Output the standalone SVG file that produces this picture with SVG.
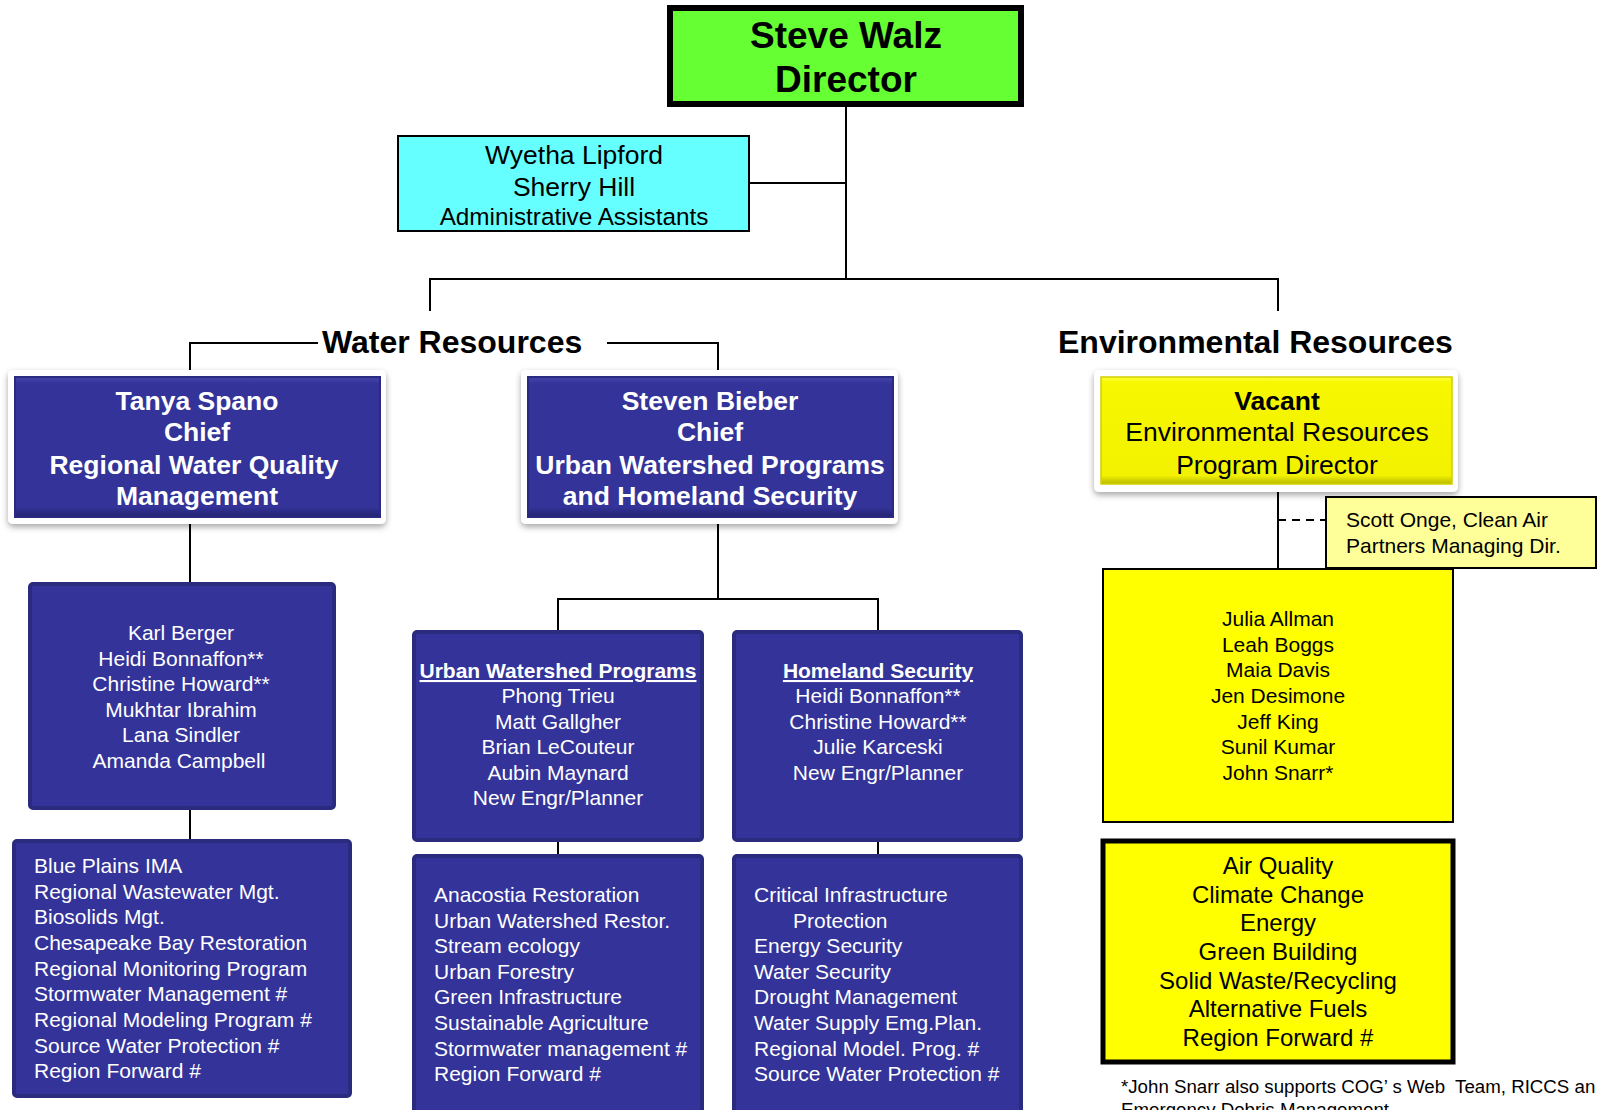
<svg xmlns="http://www.w3.org/2000/svg" width="1598" height="1110" viewBox="0 0 1598 1110">
<style>
text{font-family:"Liberation Sans",Arial,sans-serif}
.c{text-anchor:middle}
.wt{fill:#fff;font-size:21px}
.wb{fill:#fff;font-size:26.5px;font-weight:bold}
.bk{fill:#000}
.ln{stroke:#000;stroke-width:2;fill:none}
.staff{fill:#333399;stroke:#2a2a7e;stroke-width:4}
.frame{fill:#fff;filter:url(#sh)}
</style>
<defs>
<filter id="sh" x="-10%" y="-10%" width="120%" height="130%">
<feDropShadow dx="0" dy="3" stdDeviation="3" flood-color="#000" flood-opacity="0.35"/>
</filter>
<linearGradient id="bev" x1="0" y1="0" x2="0" y2="1">
<stop offset="0" stop-color="#4545ad"/>
<stop offset="0.05" stop-color="#333399"/>
<stop offset="0.93" stop-color="#333399"/>
<stop offset="1" stop-color="#232370"/>
</linearGradient>
<linearGradient id="ybev" x1="0" y1="0" x2="0" y2="1">
<stop offset="0" stop-color="#ffff40"/>
<stop offset="0.05" stop-color="#f7f700"/>
<stop offset="0.92" stop-color="#f2f200"/>
<stop offset="1" stop-color="#b8b800"/>
</linearGradient>
</defs>
<rect width="1598" height="1110" fill="#fff"/>

<g id="connectors">
<path class="ln" d="M846 107V279M750 183H846M430 311V279H1278V311"/>
<path class="ln" d="M190 370V343H318M607 343H718V370"/>
<path class="ln" d="M190 524V582M190 810V839"/>
<path class="ln" d="M718 524V599M558 630V599H878V630M558 842V854M878 842V854"/>
<path class="ln" d="M1278 490V568"/>
<path class="ln" d="M1278 520H1326" stroke-dasharray="8,6"/>
</g>

<g id="director">
<rect x="670" y="8" width="351" height="96" fill="#66ff33" stroke="#000" stroke-width="6"/>
<text class="c bk" x="846" y="48" font-size="37" font-weight="bold">Steve Walz</text>
<text class="c bk" x="846" y="92" font-size="37" font-weight="bold">Director</text>
</g>

<g id="admin">
<rect x="398" y="136" width="351" height="95" fill="#66ffff" stroke="#000" stroke-width="2"/>
<text class="c bk" x="574" y="164" font-size="26.5">Wyetha Lipford</text>
<text class="c bk" x="574" y="196" font-size="26.5">Sherry Hill</text>
<text class="c bk" x="574" y="225" font-size="24.3">Administrative Assistants</text>
</g>

<g id="water-title">
<text class="bk" x="322" y="353" font-size="32" font-weight="bold">Water Resources</text>
</g>
<g id="env-title">
<text class="bk" x="1058" y="353" font-size="32" font-weight="bold">Environmental Resources</text>
</g>

<g id="tanya">
<rect class="frame" x="8" y="370" width="378" height="154" rx="5"/>
<rect x="15" y="377" width="365" height="140" fill="url(#bev)" stroke="#2a2a80" stroke-width="2"/>
<text class="c wb" x="197" y="410">Tanya Spano</text>
<text class="c wb" x="197" y="441">Chief</text>
<text class="c wb" x="194" y="474">Regional Water Quality</text>
<text class="c wb" x="197" y="505">Management</text>
</g>

<g id="bieber">
<rect class="frame" x="521" y="370" width="377" height="154" rx="5"/>
<rect x="528" y="377" width="365" height="140" fill="url(#bev)" stroke="#2a2a80" stroke-width="2"/>
<text class="c wb" x="710" y="410">Steven Bieber</text>
<text class="c wb" x="710" y="441">Chief</text>
<text class="c wb" x="710" y="474">Urban Watershed Programs</text>
<text class="c wb" x="710" y="505">and Homeland Security</text>
</g>

<g id="vacant">
<rect class="frame" x="1094" y="370" width="364" height="122" rx="5"/>
<rect x="1101" y="377" width="351" height="107" fill="url(#ybev)" stroke="#d0d000" stroke-width="1.5"/>
<text class="c bk" x="1277" y="410" font-size="26.5" font-weight="bold">Vacant</text>
<text class="c bk" x="1277" y="441" font-size="26.5">Environmental Resources</text>
<text class="c bk" x="1277" y="474" font-size="26.5">Program Director</text>
</g>

<g id="scott">
<rect x="1326" y="497" width="270" height="71" fill="#ffff99" stroke="#000" stroke-width="2"/>
<text class="bk" x="1346" y="527" font-size="21">Scott Onge, Clean Air</text>
<text class="bk" x="1346" y="553" font-size="21">Partners Managing Dir.</text>
</g>

<g id="karl">
<rect class="staff" x="30" y="584" width="304" height="224" rx="3"/>
<text class="c wt" x="181" y="640">Karl Berger</text>
<text class="c wt" x="181" y="666">Heidi Bonnaffon**</text>
<text class="c wt" x="181" y="691">Christine Howard**</text>
<text class="c wt" x="181" y="717">Mukhtar Ibrahim</text>
<text class="c wt" x="181" y="742">Lana Sindler</text>
<text class="c wt" x="179" y="768">Amanda Campbell</text>
</g>

<g id="blueplains">
<rect class="staff" x="14" y="841" width="336" height="255" rx="3"/>
<text class="wt" x="34" y="873">Blue Plains IMA</text>
<text class="wt" x="34" y="899">Regional Wastewater Mgt.</text>
<text class="wt" x="34" y="924">Biosolids Mgt.</text>
<text class="wt" x="34" y="950">Chesapeake Bay Restoration</text>
<text class="wt" x="34" y="976">Regional Monitoring Program</text>
<text class="wt" x="34" y="1001">Stormwater Management #</text>
<text class="wt" x="34" y="1027">Regional Modeling Program #</text>
<text class="wt" x="34" y="1053">Source Water Protection #</text>
<text class="wt" x="34" y="1078">Region Forward #</text>
</g>

<g id="urban">
<rect class="staff" x="414" y="632" width="288" height="208" rx="3"/>
<text class="c wt" x="558" y="678" font-weight="bold" text-decoration="underline">Urban Watershed Programs</text>
<text class="c wt" x="558" y="703">Phong Trieu</text>
<text class="c wt" x="558" y="729">Matt Gallgher</text>
<text class="c wt" x="558" y="754">Brian LeCouteur</text>
<text class="c wt" x="558" y="780">Aubin Maynard</text>
<text class="c wt" x="558" y="805">New Engr/Planner</text>
</g>

<g id="homeland">
<rect class="staff" x="734" y="632" width="287" height="208" rx="3"/>
<text class="c wt" x="878" y="678" font-weight="bold" text-decoration="underline">Homeland Security</text>
<text class="c wt" x="878" y="703">Heidi Bonnaffon**</text>
<text class="c wt" x="878" y="729">Christine Howard**</text>
<text class="c wt" x="878" y="754">Julie Karceski</text>
<text class="c wt" x="878" y="780">New Engr/Planner</text>
</g>

<g id="anacostia">
<rect class="staff" x="414" y="856" width="288" height="270" rx="3"/>
<text class="wt" x="434" y="902">Anacostia Restoration</text>
<text class="wt" x="434" y="928">Urban Watershed Restor.</text>
<text class="wt" x="434" y="953">Stream ecology</text>
<text class="wt" x="434" y="979">Urban Forestry</text>
<text class="wt" x="434" y="1004">Green Infrastructure</text>
<text class="wt" x="434" y="1030">Sustainable Agriculture</text>
<text class="wt" x="434" y="1056">Stormwater management #</text>
<text class="wt" x="434" y="1081">Region Forward #</text>
</g>

<g id="critical">
<rect class="staff" x="734" y="856" width="287" height="270" rx="3"/>
<text class="wt" x="754" y="902">Critical Infrastructure</text>
<text class="wt" x="793" y="928">Protection</text>
<text class="wt" x="754" y="953">Energy Security</text>
<text class="wt" x="754" y="979">Water Security</text>
<text class="wt" x="754" y="1004">Drought Management</text>
<text class="wt" x="754" y="1030">Water Supply Emg.Plan.</text>
<text class="wt" x="754" y="1056">Regional Model. Prog. #</text>
<text class="wt" x="754" y="1081">Source Water Protection #</text>
</g>

<g id="envstaff">
<rect x="1103" y="569" width="350" height="253" fill="#ffff00" stroke="#000" stroke-width="2"/>
<text class="c bk" x="1278" y="626" font-size="21">Julia Allman</text>
<text class="c bk" x="1278" y="652" font-size="21">Leah Boggs</text>
<text class="c bk" x="1278" y="677" font-size="21">Maia Davis</text>
<text class="c bk" x="1278" y="703" font-size="21">Jen Desimone</text>
<text class="c bk" x="1278" y="729" font-size="21">Jeff King</text>
<text class="c bk" x="1278" y="754" font-size="21">Sunil Kumar</text>
<text class="c bk" x="1278" y="780" font-size="21">John Snarr*</text>
</g>

<g id="envprograms">
<rect x="1103" y="841" width="350" height="221" fill="#ffff00" stroke="#000" stroke-width="5"/>
<text class="c bk" x="1278" y="874" font-size="24">Air Quality</text>
<text class="c bk" x="1278" y="903" font-size="24">Climate Change</text>
<text class="c bk" x="1278" y="931" font-size="24">Energy</text>
<text class="c bk" x="1278" y="960" font-size="24">Green Building</text>
<text class="c bk" x="1278" y="989" font-size="24">Solid Waste/Recycling</text>
<text class="c bk" x="1278" y="1017" font-size="24">Alternative Fuels</text>
<text class="c bk" x="1278" y="1046" font-size="24">Region Forward #</text>
</g>

<g id="footnote">
<text class="bk" x="1121" y="1093" font-size="18.7" xml:space="preserve">*John Snarr also supports COG’ s Web  Team, RICCS an</text>
<text class="bk" x="1121" y="1116" font-size="18.7">Emergency Debris Management</text>
</g>
</svg>
